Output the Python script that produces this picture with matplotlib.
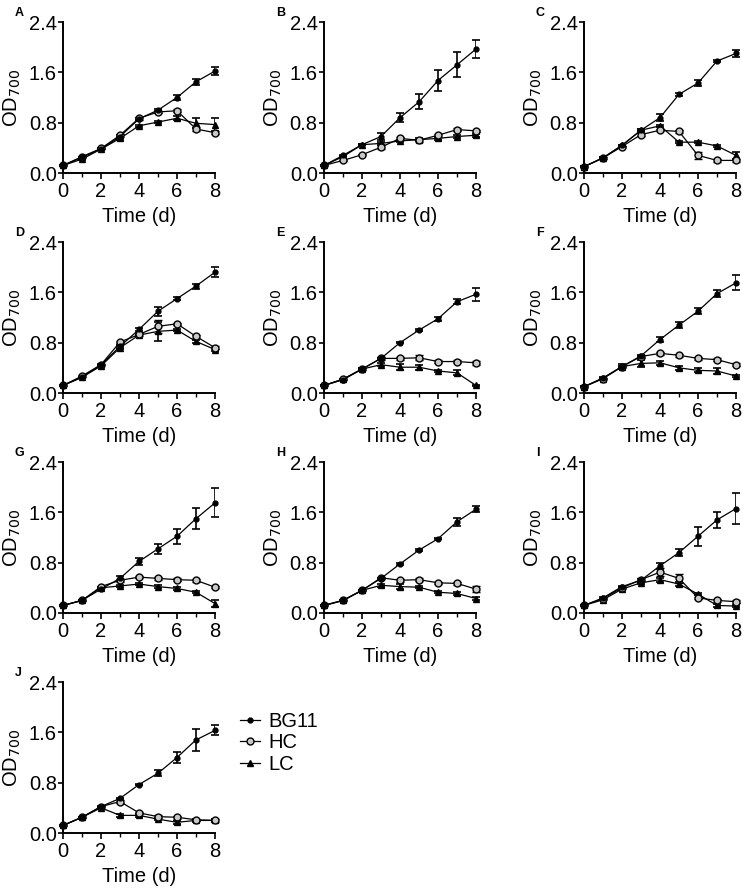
import matplotlib
matplotlib.use("Agg")
import matplotlib.pyplot as plt
from matplotlib.lines import Line2D

plt.rcParams["font.family"] = ["Liberation Sans", "DejaVu Sans"]
plt.rcParams["font.size"] = 13

days = [0, 1, 2, 3, 4, 5, 6, 7, 8]
panels = ["A", "B", "C", "D", "E", "F", "G", "H", "I", "J"]

# OD700 per panel (rows A..J), days 0..8
bg11 = [
    [0.12, 0.25, 0.38, 0.58, 0.86, 1.00, 1.20, 1.45, 1.62],
    [0.12, 0.28, 0.45, 0.58, 0.88, 1.13, 1.47, 1.72, 1.97],
    [0.10, 0.24, 0.44, 0.68, 0.88, 1.25, 1.43, 1.78, 1.90],
    [0.12, 0.25, 0.45, 0.74, 1.01, 1.30, 1.50, 1.70, 1.92],
    [0.12, 0.21, 0.38, 0.55, 0.80, 1.00, 1.18, 1.45, 1.57],
    [0.10, 0.24, 0.42, 0.59, 0.85, 1.08, 1.30, 1.58, 1.75],
    [0.12, 0.20, 0.38, 0.55, 0.82, 1.02, 1.22, 1.50, 1.75],
    [0.12, 0.20, 0.36, 0.55, 0.78, 1.00, 1.18, 1.45, 1.65],
    [0.12, 0.24, 0.42, 0.52, 0.75, 0.96, 1.22, 1.48, 1.66],
    [0.12, 0.25, 0.42, 0.55, 0.77, 0.95, 1.20, 1.48, 1.63],
]
bg11_err = [
    [0.01, 0.01, 0.01, 0.02, 0.02, 0.02, 0.04, 0.05, 0.07],
    [0.01, 0.01, 0.01, 0.05, 0.07, 0.12, 0.17, 0.20, 0.15],
    [0.01, 0.01, 0.01, 0.02, 0.06, 0.02, 0.05, 0.02, 0.05],
    [0.01, 0.01, 0.01, 0.02, 0.02, 0.07, 0.02, 0.04, 0.08],
    [0.01, 0.01, 0.01, 0.01, 0.01, 0.01, 0.03, 0.04, 0.10],
    [0.01, 0.01, 0.01, 0.02, 0.04, 0.05, 0.05, 0.05, 0.12],
    [0.01, 0.01, 0.01, 0.04, 0.05, 0.08, 0.12, 0.17, 0.23],
    [0.01, 0.01, 0.01, 0.01, 0.01, 0.01, 0.01, 0.06, 0.05],
    [0.01, 0.01, 0.01, 0.02, 0.05, 0.06, 0.15, 0.13, 0.25],
    [0.01, 0.01, 0.01, 0.01, 0.01, 0.05, 0.08, 0.17, 0.08],
]
hc = [
    [0.12, 0.26, 0.39, 0.60, 0.87, 0.97, 0.99, 0.70, 0.64],
    [0.12, 0.20, 0.29, 0.41, 0.55, 0.52, 0.60, 0.69, 0.67],
    [0.10, 0.24, 0.42, 0.61, 0.68, 0.66, 0.28, 0.20, 0.20],
    [0.12, 0.27, 0.45, 0.81, 0.93, 1.06, 1.10, 0.90, 0.72],
    [0.12, 0.22, 0.38, 0.55, 0.55, 0.56, 0.50, 0.50, 0.48],
    [0.10, 0.23, 0.42, 0.58, 0.63, 0.60, 0.55, 0.53, 0.45],
    [0.12, 0.20, 0.42, 0.52, 0.57, 0.55, 0.53, 0.52, 0.41],
    [0.12, 0.20, 0.36, 0.56, 0.52, 0.53, 0.48, 0.47, 0.38],
    [0.12, 0.23, 0.40, 0.53, 0.65, 0.55, 0.24, 0.20, 0.18],
    [0.12, 0.25, 0.42, 0.50, 0.32, 0.26, 0.25, 0.21, 0.20],
]
hc_err = [
    [0.01, 0.01, 0.01, 0.02, 0.02, 0.02, 0.02, 0.03, 0.02],
    [0.01, 0.01, 0.01, 0.03, 0.02, 0.02, 0.02, 0.02, 0.02],
    [0.01, 0.01, 0.01, 0.02, 0.02, 0.02, 0.05, 0.02, 0.02],
    [0.01, 0.01, 0.01, 0.02, 0.02, 0.10, 0.02, 0.02, 0.02],
    [0.01, 0.01, 0.01, 0.02, 0.02, 0.04, 0.02, 0.02, 0.03],
    [0.01, 0.01, 0.01, 0.02, 0.02, 0.02, 0.02, 0.02, 0.02],
    [0.01, 0.01, 0.01, 0.02, 0.02, 0.02, 0.02, 0.02, 0.02],
    [0.01, 0.01, 0.01, 0.02, 0.02, 0.02, 0.02, 0.02, 0.05],
    [0.01, 0.01, 0.01, 0.02, 0.06, 0.07, 0.02, 0.02, 0.02],
    [0.01, 0.01, 0.01, 0.02, 0.02, 0.02, 0.02, 0.02, 0.02],
]
lc = [
    [0.12, 0.22, 0.38, 0.55, 0.75, 0.81, 0.87, 0.79, 0.77],
    [0.12, 0.26, 0.45, 0.47, 0.51, 0.53, 0.55, 0.58, 0.60],
    [0.10, 0.24, 0.44, 0.68, 0.75, 0.49, 0.49, 0.43, 0.28],
    [0.12, 0.25, 0.43, 0.72, 0.92, 0.98, 1.00, 0.82, 0.69],
    [0.12, 0.22, 0.38, 0.45, 0.41, 0.41, 0.35, 0.32, 0.12],
    [0.10, 0.23, 0.42, 0.47, 0.48, 0.40, 0.36, 0.35, 0.27],
    [0.12, 0.20, 0.40, 0.43, 0.46, 0.42, 0.39, 0.33, 0.15],
    [0.12, 0.20, 0.36, 0.44, 0.42, 0.41, 0.33, 0.31, 0.23],
    [0.12, 0.21, 0.38, 0.48, 0.53, 0.46, 0.30, 0.12, 0.11],
    [0.12, 0.25, 0.40, 0.28, 0.28, 0.22, 0.17, 0.20, 0.20],
]
lc_err = [
    [0.01, 0.01, 0.01, 0.02, 0.02, 0.02, 0.03, 0.08, 0.11],
    [0.01, 0.01, 0.01, 0.02, 0.02, 0.02, 0.02, 0.02, 0.02],
    [0.01, 0.01, 0.01, 0.02, 0.02, 0.02, 0.02, 0.02, 0.05],
    [0.01, 0.01, 0.01, 0.02, 0.02, 0.15, 0.02, 0.02, 0.02],
    [0.01, 0.01, 0.01, 0.02, 0.05, 0.04, 0.02, 0.04, 0.01],
    [0.01, 0.01, 0.04, 0.05, 0.03, 0.03, 0.03, 0.05, 0.02],
    [0.01, 0.01, 0.01, 0.02, 0.02, 0.02, 0.02, 0.02, 0.05],
    [0.01, 0.01, 0.01, 0.02, 0.04, 0.02, 0.02, 0.02, 0.02],
    [0.01, 0.01, 0.01, 0.02, 0.03, 0.03, 0.02, 0.02, 0.02],
    [0.01, 0.01, 0.01, 0.02, 0.02, 0.02, 0.02, 0.02, 0.02],
]

W, H = 743, 888
fig = plt.figure(figsize=(W / 100, H / 100), dpi=100)

col_left = [63, 324, 584]
row_top = [22, 242, 462, 682]
ax_w, ax_h = 152, 151

styles = [
    dict(marker="o", ms=3.5, mfc="black", mec="black"),
    dict(marker="o", ms=5, mfc="#c8c8c8", mec="black", mew=1.0),
    dict(marker="^", ms=4, mfc="black", mec="black"),
]

for i, letter in enumerate(panels):
    r, c = divmod(i, 3)
    left = col_left[c]
    top = row_top[r]
    ax = fig.add_axes([left / W, 1 - (top + ax_h) / H, ax_w / W, ax_h / H])

    for vals, errs, st in zip((lc[i], hc[i], bg11[i]),
                              (lc_err[i], hc_err[i], bg11_err[i]),
                              (styles[2], styles[1], styles[0])):
        ax.errorbar(days, vals, yerr=errs, color="black", lw=0.9,
                    elinewidth=1.2, capsize=2.8, capthick=1.2, **st)

    ax.set_xlim(0, 8)
    ax.set_ylim(0, 2.4)
    ax.set_xticks([0, 2, 4, 6, 8])
    ax.set_xticks([1, 3, 5, 7], minor=True)
    ax.set_yticks([0.0, 0.8, 1.6, 2.4])
    ax.set_yticklabels(["0.0", "0.8", "1.6", "2.4"])
    for s in ("top", "right"):
        ax.spines[s].set_visible(False)
    for s in ("left", "bottom"):
        ax.spines[s].set_linewidth(1.4)
    ax.tick_params(axis="y", direction="out", width=1.2, length=3.5,
                   labelsize=14.5, pad=1)
    ax.tick_params(axis="x", direction="out", width=1.2, length=4.5,
                   labelsize=14.5, pad=2)
    ax.tick_params(which="minor", direction="out", width=1.0, length=3)
    ax.set_xlabel("Time (d)", fontsize=14.5, labelpad=4)
    ax.set_ylabel("OD$_{700}$", fontsize=14.5, labelpad=4)
    for art in ax.get_children():
        if isinstance(art, Line2D):
            art.set_clip_on(False)
    fig.text((left - 48) / W, 1 - (top - 9) / H, letter, fontsize=9,
             fontweight="bold", ha="left", va="center")

handles = [
    Line2D([], [], color="black", lw=0.9, **styles[0]),
    Line2D([], [], color="black", lw=0.9, **styles[1]),
    Line2D([], [], color="black", lw=0.9, **styles[2]),
]
fig.legend(handles, ["BG11", "HC", "LC"], loc="upper left",
           bbox_to_anchor=(240 / W, 1 - 712 / H), frameon=False,
           fontsize=14.5, handlelength=1.0, handletextpad=0.4,
           labelspacing=0.12, borderaxespad=0, borderpad=0)

fig.savefig("out.png", dpi=100)
